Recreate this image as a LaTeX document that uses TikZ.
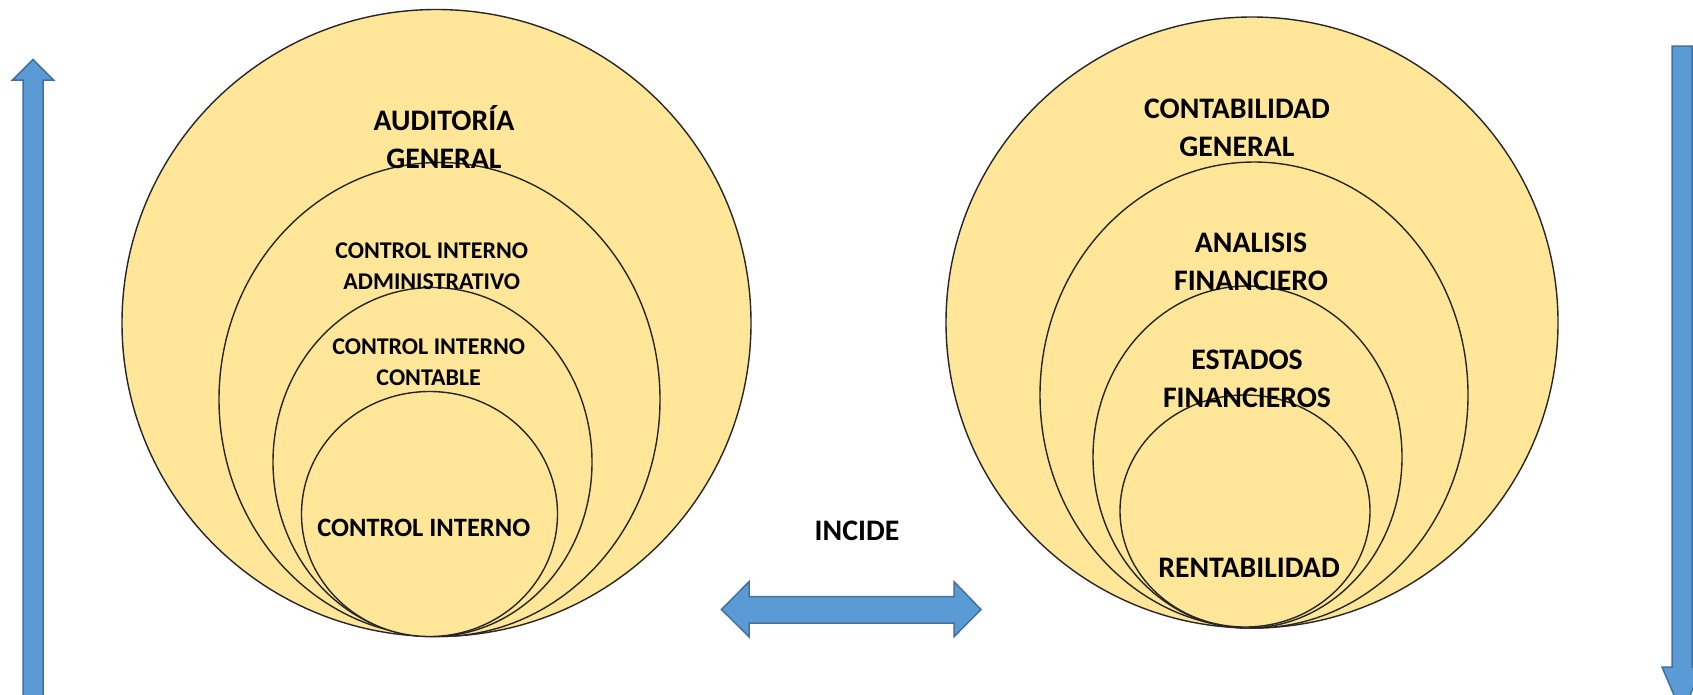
\documentclass[tikz,border=0pt]{standalone}
\usepackage{fontspec}
\setmainfont{Carlito}[BoldFont={Carlito Bold}]
\usetikzlibrary{shapes.geometric}
\definecolor{ringfill}{HTML}{FFE699}
\definecolor{ringline}{HTML}{262626}
\definecolor{arrowfill}{HTML}{5B9BD5}
\definecolor{arrowline}{HTML}{41719C}
\tikzset{
  ring/.style={ellipse, draw=ringline, line width=1.4pt, fill=ringfill, inner sep=0pt, outer sep=0pt},
  bigtxt/.style={align=center, inner sep=0pt, font=\fontsize{29.8}{38}\selectfont\bfseries},
  midtxt/.style={align=center, inner sep=0pt, font=\fontsize{26.5}{34}\selectfont\bfseries},
  smalltxt/.style={align=center, inner sep=0pt, font=\fontsize{24}{31}\selectfont\bfseries},
  blockarrow/.style={fill=arrowfill, draw=arrowline, line width=1.5pt, line join=miter}
}
\begin{document}
\begin{tikzpicture}[x=1pt,y=-1pt]
\useasboundingbox (0,0) rectangle (1693,694);
\fill[white] (0,0) rectangle (1693,694);
\begin{scope}
\clip (0,0) rectangle (1693,694);
% left group
\node[ring, minimum width=629pt, minimum height=627pt] (c1) at (436.5,323) {};
\node[ring, minimum width=441pt, minimum height=474pt] (c2) at (439.5,399.5) {};
\node[ring, minimum width=319pt, minimum height=349pt] (c3) at (432.5,462) {};
\node[ring, minimum width=256pt, minimum height=245pt] (c4) at (429.5,514) {};
% right group
\node[ring, minimum width=612pt, minimum height=611pt] (d1) at (1252,322.5) {};
\node[ring, minimum width=428pt, minimum height=466pt] (d2) at (1254,395) {};
\node[ring, minimum width=309pt, minimum height=342pt] (d3) at (1247.5,457) {};
\node[ring, minimum width=250pt, minimum height=232pt] (d4) at (1245,511) {};
% arrows
\draw[blockarrow] (23,720) -- (23,80) -- (12.5,80) -- (33,59.5) -- (53.5,80) -- (43,80) -- (43,720) -- cycle;
\draw[blockarrow] (1672,46) -- (1692,46) -- (1692,667) -- (1702,667) -- (1682,714) -- (1662,667) -- (1672,667) -- cycle;
\draw[blockarrow] (721.5,609.5) -- (749,581.7) -- (749,596.7) -- (954,596.7) -- (954,581.7) -- (981,609.5) -- (954,636.7) -- (954,623) -- (749,623) -- (749,636.7) -- cycle;
\end{scope}
% texts
\node[bigtxt] (t1) at (444,137.5) {AUDITORÍA\\GENERAL};
\node[smalltxt] (t2) at (431.7,266) {CONTROL INTERNO\\ADMINISTRATIVO};
\node[smalltxt] (t3) at (428.7,362) {CONTROL INTERNO\\CONTABLE};
\node[midtxt] (t4) at (423.8,527.7) {CONTROL INTERNO};
\node[bigtxt] (u1) at (1237,127.5) {CONTABILIDAD\\GENERAL};
\node[bigtxt] (u2) at (1251,262) {ANALISIS\\FINANCIERO};
\node[bigtxt] (u3) at (1247,378.5) {ESTADOS\\FINANCIEROS};
\node[bigtxt] (u4) at (1249,568.3) {RENTABILIDAD};
\node[bigtxt] (inc) at (857,531) {INCIDE};
\end{tikzpicture}
\end{document}
